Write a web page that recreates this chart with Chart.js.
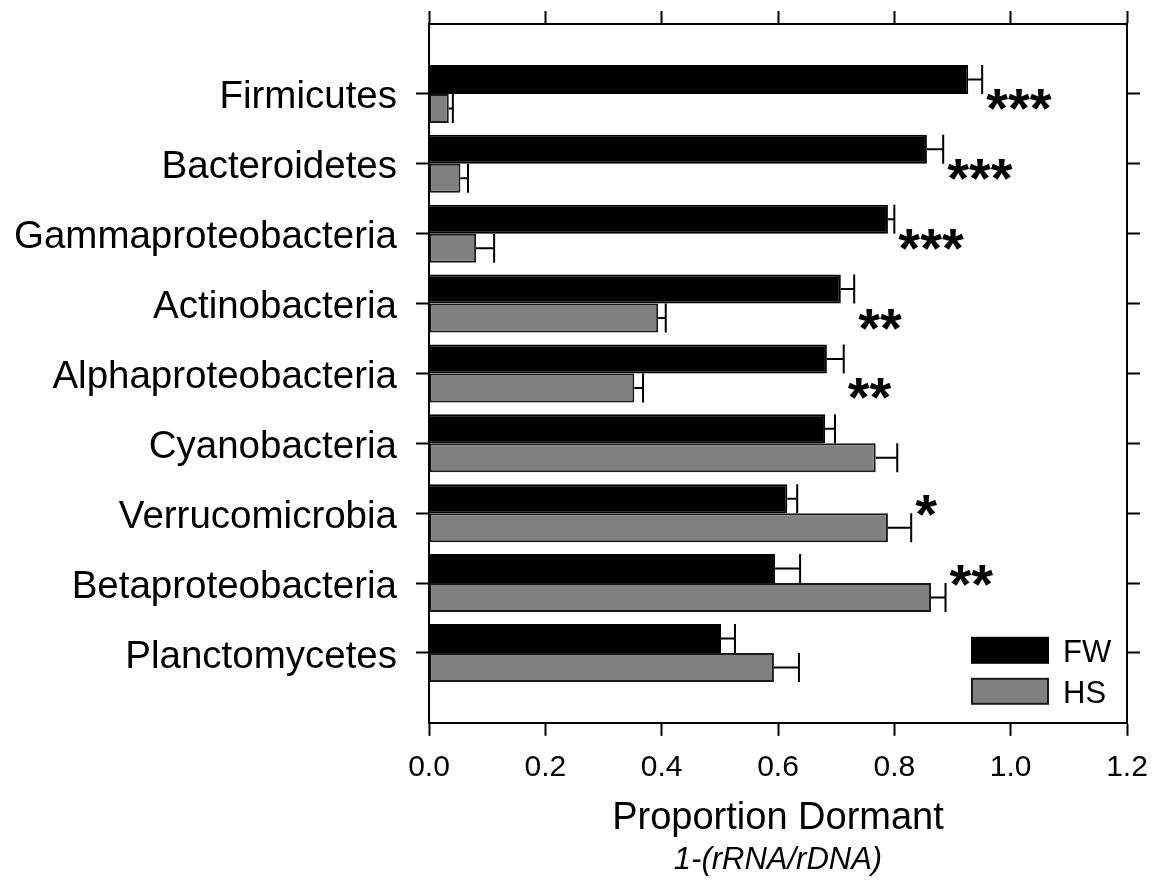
<!DOCTYPE html>
<html>
<head>
<meta charset="utf-8">
<script src="https://cdn.jsdelivr.net/npm/chart.js@4.4.1/dist/chart.umd.min.js"></script>
<style>
  html, body { margin: 0; padding: 0; background: #fff; }
  #wrap { width: 1155px; height: 884px; }
</style>
</head>
<body>
<div id="wrap"><canvas id="my-chart"></canvas></div>
<script>
'use strict';

// ***** DATA *****

let phyla = ['Firmicutes', 'Bacteroidetes', 'Gammaproteobacteria', 'Actinobacteria',
  'Alphaproteobacteria', 'Cyanobacteria', 'Verrucomicrobia', 'Betaproteobacteria', 'Planctomycetes'];
let fwValues = [0.927, 0.856, 0.789, 0.708, 0.684, 0.681, 0.616, 0.595, 0.502];
let fwErrors = [0.024, 0.028, 0.011, 0.023, 0.029, 0.017, 0.017, 0.043, 0.024];
let hsValues = [0.034, 0.054, 0.081, 0.394, 0.353, 0.768, 0.789, 0.863, 0.593];
let hsErrors = [0.007, 0.013, 0.031, 0.013, 0.015, 0.037, 0.040, 0.025, 0.043];
let stars = ['***', '***', '***', '**', '**', '', '*', '**', ''];
let xTicks = [0, 0.2, 0.4, 0.6, 0.8, 1.0, 1.2];

// ***** SETUP *****

let FONT = '"Liberation Sans", Arial, sans-serif';
Chart.defaults.font.family = FONT;
Chart.defaults.color = '#000';

let ctx = document.getElementById('my-chart').getContext('2d');

// phyla sit at 1..9 on a 0..10 axis so there is a full gap above and below
function toPoints(values){
  return values.map((v, i) => ({ x: v, y: i + 1 }));
}

function setCategoryTicks(scale){
  scale.ticks = phyla.map((p, i) => ({ value: i + 1 }));
}

function setXTicks(scale){
  scale.ticks = xTicks.map(v => ({ value: v }));
}

// fixed box sizes so the plot frame lands where the original has it
function fixHeight(h){
  return s => { s.height = h; s.paddingLeft = 0; s.paddingRight = 0; };
}
function fixWidth(w){
  return s => { s.width = w; s.paddingTop = 0; s.paddingBottom = 0; };
}

let frameGrid = {
  offset: false,
  drawOnChartArea: false,
  tickLength: 13,
  tickWidth: 2,
  tickColor: '#000'
};
let frameBorder = { color: '#000', width: 2 };

// ***** PLUGINS *****

// one sided error bars, significance stars and the boxed legend
let extrasPlugin = {
  id: 'extras',
  afterDatasetsDraw(chart){
    let c = chart.ctx;
    let xScale = chart.scales.x;
    let yScale = chart.scales.y;
    let vals = [fwValues, hsValues];
    let errs = [fwErrors, hsErrors];

    c.save();
    c.strokeStyle = '#000';
    c.lineWidth = 2;
    for(let d = 0; d < 2; d++){
      let meta = chart.getDatasetMeta(d);
      meta.data.forEach((bar, i) => {
        let x0 = xScale.getPixelForValue(vals[d][i]);
        let x1 = xScale.getPixelForValue(vals[d][i] + errs[d][i]);
        let half = bar.height / 2;
        c.beginPath();
        c.moveTo(x0, bar.y);
        c.lineTo(x1, bar.y);
        c.moveTo(x1, bar.y - half);
        c.lineTo(x1, bar.y + half);
        c.stroke();
      });
    }

    // stars: right of the longer error bar, dropped lower when HS is also long
    c.fillStyle = '#000';
    c.font = 'bold 56px ' + FONT;
    c.textAlign = 'left';
    c.textBaseline = 'alphabetic';
    for(let i = 0; i < phyla.length; i++){
      if(!stars[i]) continue;
      let fwTop = fwValues[i] + fwErrors[i];
      let hsTop = hsValues[i] + hsErrors[i];
      let x = xScale.getPixelForValue(Math.max(fwTop, hsTop)) + 4;
      let shift = fwTop > hsTop ? (hsValues[i] > 0.2 ? 19 : 9) : -4;
      let yc = yScale.getPixelForValue(i + 1) + shift;
      c.fillText(stars[i], x, yc + 24);
    }

    // legend
    let area = chart.chartArea;
    let bx = area.right - 155;
    c.font = '31px ' + FONT;
    chart.data.datasets.forEach((ds, d) => {
      let by = area.bottom - 85 + d * 41;
      c.fillStyle = ds.backgroundColor;
      c.fillRect(bx, by, 76, 25);
      c.strokeStyle = ds.borderColor;
      c.lineWidth = 2;
      c.strokeRect(bx, by, 76, 25);
      c.fillStyle = '#000';
      c.fillText(ds.label, bx + 91, by + 24);
    });
    c.restore();
  }
};

// ***** CHART *****

let myChartObj = {
  type: 'bar',
  data: {
    datasets: [{
      label: 'FW',
      data: toPoints(fwValues),
      backgroundColor: '#000000',
      borderColor: '#000000',
      borderWidth: 2
    },
    {
      label: 'HS',
      data: toPoints(hsValues),
      backgroundColor: '#808080',
      borderColor: '#1a1a1a',
      borderWidth: 2,
      borderSkipped: false
    }]
  },
  options: {
    indexAxis: 'y',
    responsive: true,
    maintainAspectRatio: false,
    animation: false,
    devicePixelRatio: 1,
    categoryPercentage: 0.83,
    barPercentage: 1.0,
    layout: { padding: 0 },
    plugins: {
      legend: { display: false },
      tooltip: { enabled: false },
      subtitle: {
        display: true,
        position: 'bottom',
        fullSize: false,
        text: '1-(rRNA/rDNA)',
        color: '#000',
        font: { size: 31, style: 'italic', family: FONT },
        padding: { top: 0, bottom: 5 }
      }
    },
    scales: {
      x: {
        type: 'linear',
        position: 'bottom',
        offset: false,
        min: 0,
        max: 1.2,
        afterBuildTicks: setXTicks,
        ticks: {
          font: { size: 30 },
          padding: 14,
          callback: v => Number(v).toFixed(1)
        },
        grid: frameGrid,
        border: frameBorder,
        title: {
          display: true,
          text: 'Proportion Dormant',
          font: { size: 38 },
          padding: { top: 0, bottom: 0 }
        },
        afterFit: fixHeight(119)
      },
      xTop: {
        type: 'linear',
        position: 'top',
        offset: false,
        min: 0,
        max: 1.2,
        afterBuildTicks: setXTicks,
        ticks: { display: false },
        grid: frameGrid,
        border: frameBorder,
        afterFit: fixHeight(24)
      },
      y: {
        type: 'linear',
        position: 'left',
        offset: false,
        reverse: true,
        min: 0,
        max: 10,
        afterBuildTicks: setCategoryTicks,
        ticks: {
          font: { size: 38.5 },
          padding: 19,
          labelOffset: 4,
          callback: (v, i) => phyla[i]
        },
        grid: frameGrid,
        border: frameBorder,
        afterFit: fixWidth(429)
      },
      yRight: {
        type: 'linear',
        position: 'right',
        offset: false,
        reverse: true,
        min: 0,
        max: 10,
        afterBuildTicks: setCategoryTicks,
        ticks: { display: false },
        grid: frameGrid,
        border: frameBorder,
        afterFit: fixWidth(28)
      }
    }
  },
  plugins: [extrasPlugin]
};

new Chart(ctx, myChartObj);
</script>
</body>
</html>
